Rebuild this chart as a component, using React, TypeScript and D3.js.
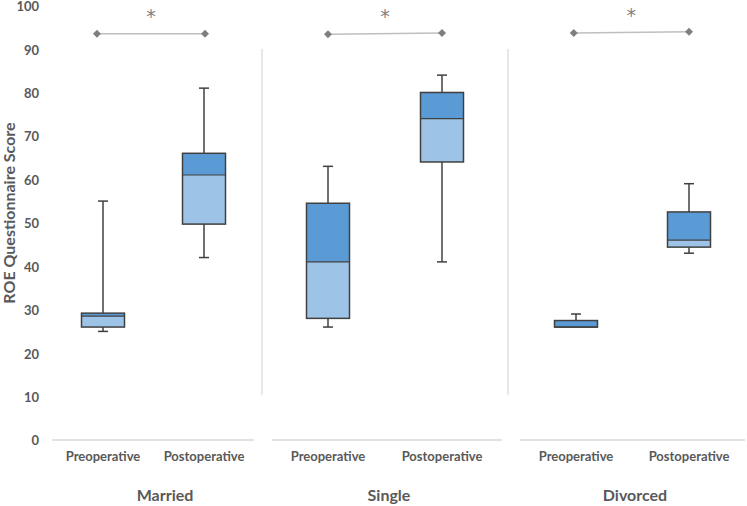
import React from "react";
import * as d3 from "d3";

const groups = ["Married", "Single", "Divorced"];
const categories = ["Preoperative", "Postoperative"];
// [min, q1, median, q3, max] per group per category
const preStats = [
  [25, 26, 28.5, 29.2, 55],
  [26, 28, 41, 54.5, 63],
  [26, 26, 26, 27.5, 29],
];
const postStats = [
  [42, 49.7, 61, 66, 81],
  [41, 64, 74, 80, 84],
  [43, 44.4, 46, 52.5, 59],
];
// significance markers: x positions (category index units) and y values
const sigX = [
  [-0.06, 1.01],
  [0.0, 1.0],
  [-0.02, 1.0],
];
const sigY = [
  [93.5, 93.5],
  [93.4, 93.7],
  [93.7, 94.0],
];
const sigLabel = "*";
const yTicks = [0, 10, 20, 30, 40, 50, 60, 70, 80, 90, 100];
const yTitle = "ROE Questionnaire Score";

const W = 747;
const H = 506;
const FONT = "Lato, 'Open Sans', sans-serif";
const TEXT = "#595959";

export default function App() {
  const y = d3.scaleLinear().domain([0, 100]).range([440, 5.6]);
  const panels = [
    [52, 254],
    [272, 502],
    [520, 745],
  ];
  const catPos = [
    [103, 204],
    [328, 442],
    [576, 689],
  ];
  const groupLabelX = [165, 389, 635];
  const boxW = 43;
  const capW = 10;

  return (
    <svg width={W} height={H} style={{ position: "absolute", left: 0, top: 0, background: "#fff" }}>
      {yTicks.map((t) => (
        <text key={t} x={39} y={y(t) + 0.8} dy="0.36em" textAnchor="end" fontFamily={FONT} fontWeight={700} fontSize={13} fill={TEXT}>
          {t}
        </text>
      ))}
      <text
        transform={`translate(15,${213}) rotate(-90)`}
        textAnchor="middle"
        fontFamily={FONT}
        fontWeight={700}
        fontSize={16}
        fill={TEXT}
      >
        {yTitle}
      </text>
      {[262, 508].map((sx) => (
        <line key={sx} x1={sx} x2={sx} y1={y(90)} y2={y(10.3)} stroke="#d9d9d9" strokeWidth={1.2} />
      ))}
      {groups.map((g, gi) => {
        const xs = d3.scaleLinear().domain([0, 1]).range(catPos[gi]);
        const stats = [preStats[gi], postStats[gi]];
        return (
          <g key={g}>
            <line x1={panels[gi][0]} x2={panels[gi][1]} y1={y(0)} y2={y(0)} stroke="#d9d9d9" strokeWidth={1.5} />
            {stats.map((s, ci) => {
              const cx = xs(ci);
              const [mn, q1, md, q3, mx] = s;
              return (
                <g key={ci}>
                  <line x1={cx} x2={cx} y1={y(q3)} y2={y(mx)} stroke="#404040" strokeWidth={1.5} />
                  <line x1={cx - capW / 2} x2={cx + capW / 2} y1={y(mx)} y2={y(mx)} stroke="#404040" strokeWidth={1.5} />
                  {mn < q1 && (
                    <>
                      <line x1={cx} x2={cx} y1={y(q1)} y2={y(mn)} stroke="#404040" strokeWidth={1.5} />
                      <line x1={cx - capW / 2} x2={cx + capW / 2} y1={y(mn)} y2={y(mn)} stroke="#404040" strokeWidth={1.5} />
                    </>
                  )}
                  <rect x={cx - boxW / 2} width={boxW} y={y(md)} height={y(q1) - y(md)} fill="#9dc3e6" />
                  <rect x={cx - boxW / 2} width={boxW} y={y(q3)} height={y(md) - y(q3)} fill="#5b9bd5" />
                  <line x1={cx - boxW / 2} x2={cx + boxW / 2} y1={y(md)} y2={y(md)} stroke="#404040" strokeWidth={1.2} />
                  <rect x={cx - boxW / 2} width={boxW} y={y(q3)} height={y(q1) - y(q3)} fill="none" stroke="#404040" strokeWidth={1.5} />
                  <text x={cx} y={461} textAnchor="middle" fontFamily={FONT} fontWeight={700} fontSize={13} fill={TEXT}>
                    {categories[ci]}
                  </text>
                </g>
              );
            })}
            <line
              x1={xs(sigX[gi][0])}
              x2={xs(sigX[gi][1])}
              y1={y(sigY[gi][0])}
              y2={y(sigY[gi][1])}
              stroke="#bfbfbf"
              strokeWidth={1.5}
            />
            {sigX[gi].map((sx, k) => {
              const px = xs(sx);
              const py = y(sigY[gi][k]);
              return (
                <path key={k} d={`M${px},${py - 4}L${px + 4},${py}L${px},${py + 4}L${px - 4},${py}Z`} fill="#7f7f7f" />
              );
            })}
            <text
              x={(xs(sigX[gi][0]) + xs(sigX[gi][1])) / 2}
              y={y(sigY[gi][0]) - 11}
              textAnchor="middle"
              fontFamily="'DejaVu Sans', sans-serif"
              fontSize={19}
              fill="#7f7f7f"
            >
              {sigLabel}
            </text>
            <text x={groupLabelX[gi]} y={501} textAnchor="middle" fontFamily={FONT} fontWeight={700} fontSize={16} fill={TEXT}>
              {g}
            </text>
          </g>
        );
      })}
    </svg>
  );
}
